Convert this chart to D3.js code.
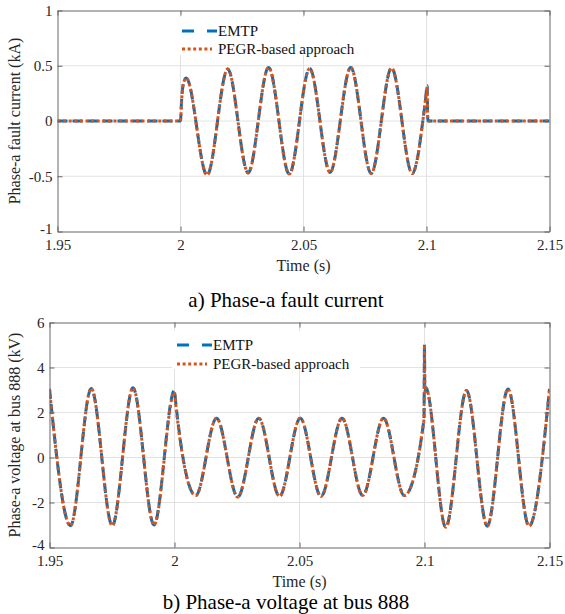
<!DOCTYPE html>
<html>
<head>
<meta charset="UTF-8">
<title>Phase-a fault current / voltage at bus 888</title>
<script src="https://d3js.org/d3.v7.min.js"></script>
<style>
  body { margin: 0; background: #fff; }
  svg text { font-family: "Liberation Serif", "Times New Roman", Times, serif !important; }
  .grid line { stroke: #e2e2e2; stroke-width: 1; }
  .axis path, .axis line { stroke: #666; stroke-width: 1; }
  .axis text { font-size: 15px; fill: #262626; }
  .label { font-size: 16px; fill: #262626; }
  .legend-text { font-size: 15px; fill: #111; }
  .caption { font-size: 21px; fill: #000; }
  .emtp { fill: none; stroke: #0072BD; stroke-width: 3; stroke-dasharray: 10,5; }
  .pegr { fill: none; stroke: #D95319; stroke-width: 3; stroke-dasharray: 3,2.6; }
</style>
</head>
<body>
<script>
// ---- data ----
var timeTicks = [1.95, 2, 2.05, 2.1, 2.15];
var currentTicks = [-1, -0.5, 0, 0.5, 1];
var voltageTicks = [-4, -2, 0, 2, 4, 6];
var seriesNames = ["EMTP", "PEGR-based approach"];

// a) phase-a fault current (kA): peaks / troughs and transition points
var currentTime = [1.95, 2.0, 2.0004, 2.0011, 2.0023, 2.0108, 2.0192, 2.0275, 2.0358, 2.0442,
                   2.0525, 2.0608, 2.0692, 2.0775, 2.0858, 2.0942, 2.0962, 2.0985, 2.0996,
                   2.1003, 2.1004, 2.1006, 2.15];
var currentEmtp = [0, 0, 0.17, 0.33, 0.39, -0.49, 0.47, -0.47, 0.485, -0.48,
                   0.476, -0.465, 0.485, -0.475, 0.48, -0.476, -0.35, 0.0, 0.19,
                   0.32, 0.12, 0, 0];
var currentPegr = [0, 0, 0.16, 0.33, 0.39, -0.49, 0.47, -0.47, 0.485, -0.48,
                   0.476, -0.465, 0.485, -0.475, 0.48, -0.476, -0.35, 0.0, 0.2,
                   0.31, 0.1, 0, 0];

// b) phase-a voltage at bus 888 (kV)
var voltageTime = [1.95, 1.9584, 1.9667, 1.9751, 1.9834, 1.9918, 2.0, 2.0004, 2.0085,
                   2.0168, 2.0253, 2.0337, 2.042, 2.0503, 2.0586, 2.067, 2.0753, 2.0836,
                   2.0919, 2.0998, 2.1, 2.1001, 2.1003, 2.1005, 2.1085, 2.1168, 2.1251,
                   2.1334, 2.1418, 2.15];
var voltageEmtp = [3.05, -3.03, 3.07, -3.03, 3.1, -3.0, 2.98, 2.55, -1.69,
                   1.75, -1.76, 1.75, -1.73, 1.75, -1.73, 1.75, -1.69, 1.75,
                   -1.69, 1.7, 5.05, 3.3, 2.95, 3.1, -3.1, 2.98, -3.05,
                   3.05, -3.05, 3.05];
var voltagePegr = [3.05, -3.03, 3.07, -3.03, 3.1, -3.0, 2.9, 2.45, -1.69,
                   1.75, -1.76, 1.75, -1.73, 1.75, -1.73, 1.75, -1.69, 1.75,
                   -1.69, 1.7, 5.0, 3.4, 2.9, 3.1, -3.1, 2.98, -3.05,
                   3.05, -3.05, 3.05];

var serif = '"Liberation Serif", "Times New Roman", Times, serif';

var svg = d3.select("body").append("svg")
            .attr("width", 565)
            .attr("height", 614)
            .style("display", "block")
            .attr("font-family", serif);

function drawPanel(p) {
  var x = d3.scaleLinear().domain([1.95, 2.15]).range([p.left, p.right]);
  var y = d3.scaleLinear().domain([p.yTicks[0], p.yTicks[p.yTicks.length - 1]]).range([p.bottom, p.top]);
  var g = svg.append("g");

  g.append("clipPath").attr("id", p.id + "-clip")
   .append("rect")
   .attr("x", p.left).attr("y", p.top)
   .attr("width", p.right - p.left).attr("height", p.bottom - p.top);

  // grid
  var grid = g.append("g").attr("class", "grid");
  grid.selectAll(".gx").data(timeTicks.slice(1, -1)).enter().append("line")
      .attr("x1", d => x(d)).attr("x2", d => x(d))
      .attr("y1", p.top).attr("y2", p.bottom);
  grid.selectAll(".gy").data(p.yTicks.slice(1, -1)).enter().append("line")
      .attr("x1", p.left).attr("x2", p.right)
      .attr("y1", d => y(d)).attr("y2", d => y(d));

  var line = d3.line()
               .x(d => x(d[0]))
               .y(d => y(d[1]))
               .curve(d3.curveMonotoneX);

  var lines = g.append("g").attr("clip-path", "url(#" + p.id + "-clip)");
  lines.append("path").attr("class", "emtp")
       .attr("d", line(d3.zip(p.time, p.emtp)));
  lines.append("path").attr("class", "pegr")
       .attr("d", line(d3.zip(p.time, p.pegr)));

  // legend (white box, no edge)
  var lg = g.append("g");
  lg.append("rect")
    .attr("x", p.legX - 5).attr("y", p.legY - 14)
    .attr("width", 188).attr("height", 38)
    .attr("fill", "#fff");
  lg.append("line")
    .attr("x1", p.legX).attr("x2", p.legX + 35)
    .attr("y1", p.legY).attr("y2", p.legY)
    .attr("stroke", "#0072BD").attr("stroke-width", 3)
    .attr("stroke-dasharray", "12,13");
  lg.append("line")
    .attr("x1", p.legX).attr("x2", p.legX + 30)
    .attr("y1", p.legY + p.legGap).attr("y2", p.legY + p.legGap)
    .attr("stroke", "#D95319").attr("stroke-width", 3)
    .attr("stroke-dasharray", "3,2.6");
  lg.selectAll("text").data(seriesNames).enter().append("text")
    .attr("class", "legend-text")
    .attr("x", p.legX + 36)
    .attr("y", (d, i) => p.legY + 5 + i * p.legGap)
    .text(d => d);

  // axes, ticks inward on all four sides
  g.append("g").attr("class", "axis")
   .attr("transform", "translate(0," + p.bottom + ")")
   .call(d3.axisBottom(x).tickValues(timeTicks).tickFormat(d => String(d))
          .tickSizeInner(-5).tickSizeOuter(0).tickPadding(8));
  g.append("g").attr("class", "axis")
   .attr("transform", "translate(0," + p.top + ")")
   .call(d3.axisTop(x).tickValues(timeTicks).tickFormat("")
          .tickSizeInner(-5).tickSizeOuter(0));
  var yAxis = g.append("g").attr("class", "axis")
   .attr("transform", "translate(" + p.left + ",0)")
   .call(d3.axisLeft(y).tickValues(p.yTicks).tickFormat(d => String(d))
          .tickSizeInner(-5).tickSizeOuter(0).tickPadding(5));
  // lowest y label sits a little high, as in the original
  yAxis.select(".tick text").attr("dy", "0.1em");
  g.append("g").attr("class", "axis")
   .attr("transform", "translate(" + p.right + ",0)")
   .call(d3.axisRight(y).tickValues(p.yTicks).tickFormat("")
          .tickSizeInner(-5).tickSizeOuter(0));
  g.selectAll(".axis").attr("font-family", serif).attr("font-size", 15);

  g.append("text").attr("class", "label")
   .attr("text-anchor", "middle")
   .attr("x", (p.left + p.right) / 2).attr("y", p.bottom + 39)
   .text("Time (s)");
  g.append("text").attr("class", "label")
   .attr("text-anchor", "middle")
   .attr("transform", "translate(" + p.yLabelX + "," + (p.top + p.bottom) / 2 + ") rotate(-90)")
   .text(p.yLabel);
  g.append("text").attr("class", "caption")
   .attr("text-anchor", "middle")
   .attr("x", 286).attr("y", p.captionY)
   .text(p.caption);
}

drawPanel({
  id: "cur", left: 57.5, right: 549.5, top: 10.5, bottom: 231.5,
  yTicks: currentTicks, time: currentTime, emtp: currentEmtp, pegr: currentPegr,
  legX: 182, legY: 31, legGap: 18, yLabelX: 20,
  yLabel: "Phase-a fault current (kA)",
  caption: "a) Phase-a fault current", captionY: 307
});

drawPanel({
  id: "volt", left: 49.5, right: 549.5, top: 322.5, bottom: 547.5,
  yTicks: voltageTicks, time: voltageTime, emtp: voltageEmtp, pegr: voltagePegr,
  legX: 177, legY: 345, legGap: 19, yLabelX: 20,
  yLabel: "Phase-a voltage at bus 888 (kV)",
  caption: "b) Phase-a voltage at bus 888", captionY: 609
});
</script>
</body>
</html>
